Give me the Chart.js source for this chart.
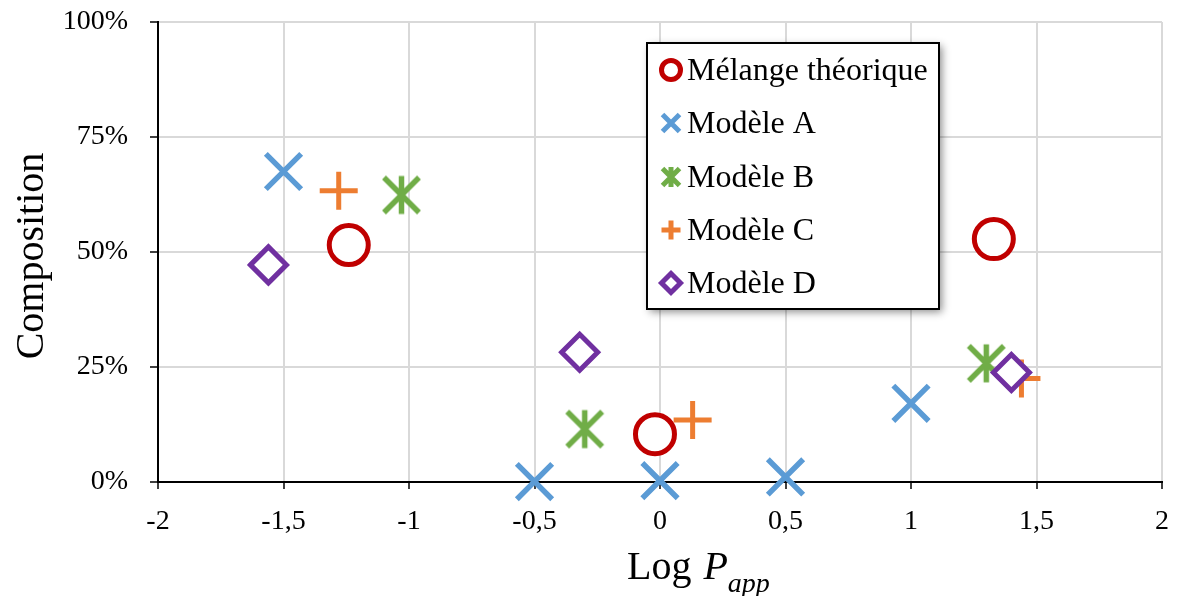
<!DOCTYPE html>
<html>
<head>
<meta charset="utf-8">
<script src="https://cdn.jsdelivr.net/npm/chart.js@4.4.1/dist/chart.umd.min.js"></script>
<style>
  html, body { margin: 0; padding: 0; background: #fff; }
  #wrap { width: 1180px; height: 596px; position: relative; }
</style>
</head>
<body>
<div id="wrap"><canvas id="chart" width="1180" height="596"></canvas></div>
<script>
// --- data (x = Log Papp, y = composition in %) ---
const seriesNames = ['Mélange théorique', 'Modèle A', 'Modèle B', 'Modèle C', 'Modèle D'];
const melangeX = [-1.24, -0.02, 1.33];
const melangeY = [51.5, 10.4, 52.8];
const modeleAX = [-1.5, -0.5, 0.0, 0.5, 1.0];
const modeleAY = [67.5, 0.1, 0.3, 1.1, 17.1];
const modeleBX = [-1.03, -0.30, 1.30];
const modeleBY = [62.4, 11.5, 25.8];
const modeleCX = [-1.28, 0.13, 1.44];
const modeleCY = [63.3, 13.5, 22.5];
const modeleDX = [-1.56, -0.32, 1.40];
const modeleDY = [47.2, 28.2, 23.8];
const xTicks = [-2, -1.5, -1, -0.5, 0, 0.5, 1, 1.5, 2];
const yTicks = [0, 25, 50, 75, 100];

const colors = ['#c00000', '#5b9bd5', '#70ad47', '#ed7d31', '#7030a0'];
const FONT = "'Liberation Serif', 'Times New Roman', serif";

function toPoints(xs, ys) {
    return xs.map((x, i) => ({ x: x, y: ys[i] }));
}

// asterisk marker (vertical bar + X), Chart.js has no 6-arm star
function asteriskCanvas(half, diag, lw, color) {
    const s = Math.ceil(half * 2 + lw * 2);
    const cv = document.createElement('canvas');
    cv.width = s; cv.height = s;
    const g = cv.getContext('2d');
    const c = s / 2;
    g.strokeStyle = color;
    g.lineWidth = lw;
    g.beginPath();
    g.moveTo(c, c - half); g.lineTo(c, c + half);
    g.moveTo(c - diag, c - diag); g.lineTo(c + diag, c + diag);
    g.moveTo(c - diag, c + diag); g.lineTo(c + diag, c - diag);
    g.stroke();
    return cv;
}

const datasets = [
    { label: seriesNames[0], data: toPoints(melangeX, melangeY), pointStyle: 'circle',
      pointRadius: 19.5, pointBorderWidth: 5, order: 5 },
    { label: seriesNames[1], data: toPoints(modeleAX, modeleAY), pointStyle: 'crossRot',
      pointRadius: 25, pointBorderWidth: 5.5, order: 4 },
    { label: seriesNames[2], data: toPoints(modeleBX, modeleBY),
      pointStyle: asteriskCanvas(19, 17.5, 5.5, colors[2]), pointRadius: 20, order: 3 },
    { label: seriesNames[3], data: toPoints(modeleCX, modeleCY), pointStyle: 'cross',
      pointRadius: 19, pointBorderWidth: 5, order: 2 },
    { label: seriesNames[4], data: toPoints(modeleDX, modeleDY), pointStyle: 'rectRot',
      pointRadius: 18, pointBorderWidth: 5, order: 1 }
];
datasets.forEach((ds, i) => {
    ds.pointBorderColor = colors[i];
    ds.pointBackgroundColor = '#ffffff';
    ds.pointHoverRadius = ds.pointRadius;
    ds.clip = false;
    ds.showLine = false;
});

// small legend markers, drawn by hand inside the boxed legend
function drawLegendMarker(ctx, i, x, y) {
    ctx.save();
    ctx.strokeStyle = colors[i];
    ctx.fillStyle = '#fff';
    ctx.lineWidth = 5;
    ctx.beginPath();
    if (i === 0) {
        ctx.arc(x, y, 9.5, 0, Math.PI * 2);
        ctx.fill();
    } else if (i === 1) {
        ctx.moveTo(x - 8.5, y - 8.5); ctx.lineTo(x + 8.5, y + 8.5);
        ctx.moveTo(x - 8.5, y + 8.5); ctx.lineTo(x + 8.5, y - 8.5);
    } else if (i === 2) {
        ctx.moveTo(x, y - 10); ctx.lineTo(x, y + 10);
        ctx.moveTo(x - 8.5, y - 8.5); ctx.lineTo(x + 8.5, y + 8.5);
        ctx.moveTo(x - 8.5, y + 8.5); ctx.lineTo(x + 8.5, y - 8.5);
    } else if (i === 3) {
        ctx.moveTo(x - 9.5, y); ctx.lineTo(x + 9.5, y);
        ctx.moveTo(x, y - 9.5); ctx.lineTo(x, y + 9.5);
    } else {
        ctx.moveTo(x - 9.5, y); ctx.lineTo(x, y - 9.5);
        ctx.lineTo(x + 9.5, y); ctx.lineTo(x, y + 9.5);
        ctx.closePath();
        ctx.fill();
    }
    ctx.stroke();
    ctx.restore();
}

const annotations = {
    id: 'annotations',
    afterDraw(chart) {
        const ctx = chart.ctx;
        const area = chart.chartArea;

        // y title
        ctx.save();
        ctx.fillStyle = '#000';
        ctx.font = '40px ' + FONT;
        ctx.translate(43, (area.top + area.bottom) / 2 + 4);
        ctx.rotate(-Math.PI / 2);
        ctx.textAlign = 'center';
        ctx.textBaseline = 'alphabetic';
        ctx.fillText('Composition', 0, 0);
        ctx.restore();

        // x title: Log P_app
        ctx.save();
        ctx.fillStyle = '#000';
        ctx.textBaseline = 'alphabetic';
        ctx.textAlign = 'left';
        let x = 627;
        ctx.font = '40px ' + FONT;
        ctx.fillText('Log', x, 579);
        x += ctx.measureText('Log ').width + 2;
        ctx.font = 'italic 40px ' + FONT;
        ctx.fillText('P', x, 579);
        x += ctx.measureText('P').width;
        ctx.font = 'italic 28px ' + FONT;
        ctx.fillText('app', x, 592);
        ctx.restore();

        // legend box
        const bx = 647, by = 43, bw = 292, bh = 266;
        ctx.save();
        ctx.shadowColor = 'rgba(0,0,0,0.45)';
        ctx.shadowBlur = 8;
        ctx.shadowOffsetX = 3;
        ctx.shadowOffsetY = 3;
        ctx.fillStyle = '#fff';
        ctx.fillRect(bx, by, bw, bh);
        ctx.restore();
        ctx.save();
        ctx.strokeStyle = '#000';
        ctx.lineWidth = 2;
        ctx.strokeRect(bx, by, bw, bh);
        ctx.font = '32px ' + FONT;
        ctx.fillStyle = '#000';
        ctx.textAlign = 'left';
        ctx.textBaseline = 'alphabetic';
        const rows = [70, 123, 177, 230, 283];
        seriesNames.forEach((name, i) => {
            drawLegendMarker(ctx, i, 671, rows[i]);
            ctx.fillText(name, 687, rows[i] + 10);
        });
        ctx.restore();
    }
};

const tickFont = { family: FONT, size: 28 };

new Chart(document.getElementById('chart').getContext('2d'), {
    type: 'scatter',
    data: { datasets: datasets },
    plugins: [annotations],
    options: {
        responsive: false,
        animation: false,
        layout: { autoPadding: false, padding: { top: 22, right: 18, left: 0, bottom: 0 } },
        plugins: {
            legend: { display: false },
            tooltip: { enabled: false }
        },
        scales: {
            x: {
                type: 'linear',
                min: xTicks[0],
                max: xTicks[xTicks.length - 1],
                afterBuildTicks: s => { s.ticks = xTicks.map(v => ({ value: v })); },
                afterFit: s => {
                    s.height = 114;
                    s.paddingLeft = 0; s.paddingRight = 0;
                },
                ticks: {
                    font: tickFont,
                    color: '#000',
                    padding: 16,
                    maxRotation: 0,
                    autoSkip: false,
                    callback: v => String(v).replace('.', ',')
                },
                grid: { color: '#d9d9d9', lineWidth: 2, tickColor: '#000', tickLength: 7, tickWidth: 1.5 },
                border: { color: '#000', width: 2 }
            },
            y: {
                type: 'linear',
                min: yTicks[0],
                max: yTicks[yTicks.length - 1],
                afterBuildTicks: s => { s.ticks = yTicks.map(v => ({ value: v })); },
                afterFit: s => {
                    s.width = 158;
                    s.paddingTop = 0; s.paddingBottom = 0;
                },
                ticks: {
                    font: tickFont,
                    color: '#000',
                    padding: 22,
                    callback: v => v + '%'
                },
                grid: { color: '#d9d9d9', lineWidth: 2, tickColor: '#000', tickLength: 8, tickWidth: 1.5 },
                border: { color: '#000', width: 2 }
            }
        }
    }
});
</script>
</body>
</html>
